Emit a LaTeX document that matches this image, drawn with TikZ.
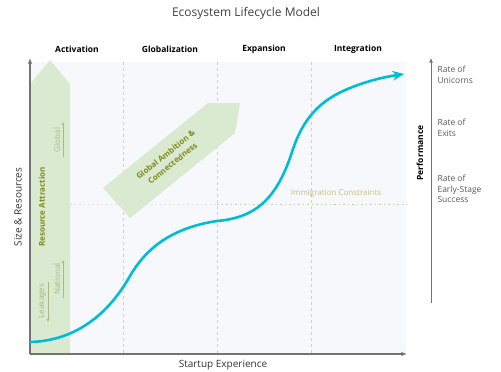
\documentclass[tikz,border=0pt]{standalone}
\usepackage{fontspec}
\setmainfont{Open Sans}
\usepackage{xcolor}
\usetikzlibrary{arrows.meta,positioning}

\definecolor{plotbg}{RGB}{247,248,251}
\definecolor{leafgreen}{RGB}{217,234,208}
\definecolor{olivetext}{RGB}{128,138,32}
\definecolor{paleolive}{RGB}{168,186,130}
\definecolor{khaki}{RGB}{196,190,132}
\definecolor{growthcyan}{RGB}{0,188,212}

\begin{document}
\begin{tikzpicture}[
    x=1pt, y=-1pt,
    title/.style={font=\fontsize{12}{14}\selectfont, text=black!75},
    phase/.style={font=\fontsize{8.5}{10}\selectfont\bfseries, text=black},
    axislabel/.style={font=\fontsize{10}{12}\selectfont, text=black!80},
    ratelabel/.style={font=\fontsize{8.5}{10.5}\selectfont, text=black!65,
                      align=left, anchor=west},
    bandlabel/.style={font=\fontsize{8}{10}\selectfont\bfseries, text=olivetext},
    scalelabel/.style={font=\fontsize{8}{10}\selectfont, text=paleolive, rotate=90},
    axis/.style={-{Latex[length=2mm,width=1.6mm]}, black!55, line width=1.2pt},
    phaseline/.style={black!18, dash pattern=on 3pt off 3pt, line width=0.6pt},
    limitline/.style={line width=1pt, dash pattern=on 1.5pt off 3pt},
    tick/.style={paleolive, line width=0.6pt},
    growth/.style={growthcyan, line width=2.6pt, line cap=round,
                   -{Stealth[length=4mm,width=3.4mm]}}
]
    \useasboundingbox (0,0) rectangle (501,372);

    % Title
    \node[title] (T) at (246,13) {Ecosystem Lifecycle Model};

    % Plot area
    \fill[plotbg] (30,62) rectangle (406,354);

    % Phase separators
    \draw[phaseline] (123,62) -- (123,354);
    \draw[phaseline] (217,62) -- (217,354);
    \draw[phaseline] (311,62) -- (311,354);

    % Phase names
    \node[phase] (P1) at (77,49)  {Activation};
    \node[phase] (P2) at (170,49) {Globalization};
    \node[phase] (P3) at (264,49) {Expansion};
    \node[phase] (P4) at (358,49) {Integration};

    % Resource attraction band (vertical arrow)
    \fill[leafgreen] (30,354) -- (30,84) -- (50,60) -- (70,84) -- (70,354) -- cycle;
    \node[bandlabel, rotate=90] (RA) at (42,207) {Resource Attraction};
    \node[scalelabel] (GL) at (57,140) {Global};
    \node[scalelabel] (NA) at (57,279) {National};
    \node[scalelabel] (LK) at (42,301) {Leakages};
    \draw[tick, -{Latex[length=1mm,width=1mm]}] (63,157) -- (63,122);
    \draw[tick, -{Latex[length=1mm,width=1mm]}] (63,298) -- (63,260);
    \draw[tick, -{Latex[length=1mm,width=1mm]}] (48,282) -- (48,322);

    % Global ambition band (diagonal arrow)
    \fill[leafgreen] (103,188) -- (208,103) -- (240,103) -- (235,133) -- (130,218) -- cycle;
    \node[bandlabel, font=\fontsize{8}{11}\selectfont\bfseries, rotate=39, align=center]
        (GA) at (169,159) {Global Ambition \&\\Connectedness};

    % Immigration constraints
    \draw[limitline, black!12] (70,204) -- (217,204);
    \draw[limitline, paleolive!70] (217,204) -- (407,204);
    \node[font=\fontsize{8}{10}\selectfont, text=khaki] (IC) at (336,194) {Immigration Constraints};

    % Axes
    \coordinate (O) at (30,354);
    \coordinate (Ytop) at (30,58);
    \coordinate (Xend) at (407,354);
    \draw[axis] (O) -- (Ytop);
    \draw[axis] (O) -- (Xend);
    \node[axislabel, rotate=90] (YL) at (18,207) {Size \& Resources};
    \node[axislabel] (XL) at (223,365) {Startup Experience};

    % Growth curve
    \draw[growth] (30,342) .. controls (70,341) and (105,320) .. (130,276)
        .. controls (145,250) and (170,228) .. (217,221)
        .. controls (250,218) and (275,205) .. (292,152)
        .. controls (303,118) and (320,100) .. (350,88)
        .. controls (370,80) and (385,77) .. (404,74);

    % Performance axis
    \coordinate (Pbot) at (431,303);
    \coordinate (Ptop) at (431,58);
    \draw[-{Latex[length=1.6mm,width=1.4mm]}, black!55, line width=0.7pt] (Pbot) -- (Ptop);
    \node[phase, rotate=90] (PF) at (420,153) {Performance};
    \node[ratelabel] (R1) at (434,75)  {Rate of\\Unicorns};
    \node[ratelabel] (R2) at (434,128) {Rate of\\Exits};
    \node[ratelabel] (R3) at (434,189) {Rate of\\Early-Stage\\Success};
\end{tikzpicture}
\end{document}
